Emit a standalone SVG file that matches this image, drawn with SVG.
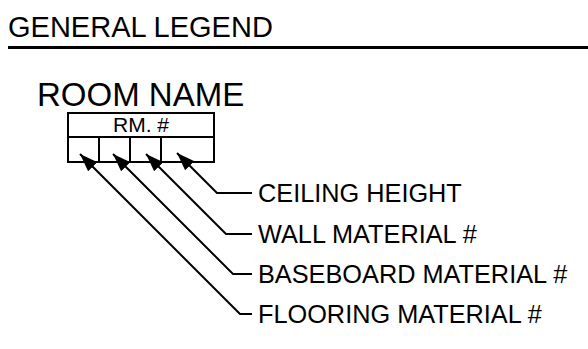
<svg xmlns="http://www.w3.org/2000/svg" width="588" height="349" viewBox="0 0 588 349">
<defs>
<style>
text{font-family:"Liberation Sans",Arial,sans-serif;fill:#000}
.title{font-size:29px}
.big{font-size:33px}
.lbl{font-size:25.3px}
.rm{font-size:21px}
.ln{fill:none;stroke:#000;stroke-width:2}
</style>
<marker id="ah" viewBox="0 0 18 13" refX="18" refY="6.5" markerWidth="18" markerHeight="13" markerUnits="userSpaceOnUse" orient="auto">
<path d="M0,0 L18,6.5 L0,13 Z" fill="#000"/>
</marker>
</defs>
<rect width="588" height="349" fill="#fff"/>
<g id="title">
<text class="title" x="8" y="37">GENERAL LEGEND</text>
<line x1="8" y1="47.5" x2="588" y2="47.5" stroke="#000" stroke-width="3"/>
</g>
<g id="room-tag">
<text class="big" x="37" y="106">ROOM NAME</text>
<rect class="ln" x="68" y="113" width="146" height="49"/>
<line class="ln" x1="68" y1="137" x2="214" y2="137"/>
<line class="ln" x1="99" y1="137" x2="99" y2="162"/>
<line class="ln" x1="130" y1="137" x2="130" y2="162"/>
<line class="ln" x1="161" y1="137" x2="161" y2="162"/>
<text class="rm" x="141" y="132" text-anchor="middle">RM. #</text>
</g>
<g id="connectors">
<path class="ln" d="M252,193 H217 L177,153" marker-end="url(#ah)"/>
<path class="ln" d="M252,234 H226 L146,154" marker-end="url(#ah)"/>
<path class="ln" d="M252,274 H233 L113,154" marker-end="url(#ah)"/>
<path class="ln" d="M252,314 H240 L80,154" marker-end="url(#ah)"/>
</g>
<g id="label-ceiling"><text class="lbl" x="258" y="202">CEILING HEIGHT</text></g>
<g id="label-wall"><text class="lbl" x="258" y="243">WALL MATERIAL #</text></g>
<g id="label-baseboard"><text class="lbl" x="258" y="283">BASEBOARD MATERIAL #</text></g>
<g id="label-flooring"><text class="lbl" x="258" y="323">FLOORING MATERIAL #</text></g>
</svg>
